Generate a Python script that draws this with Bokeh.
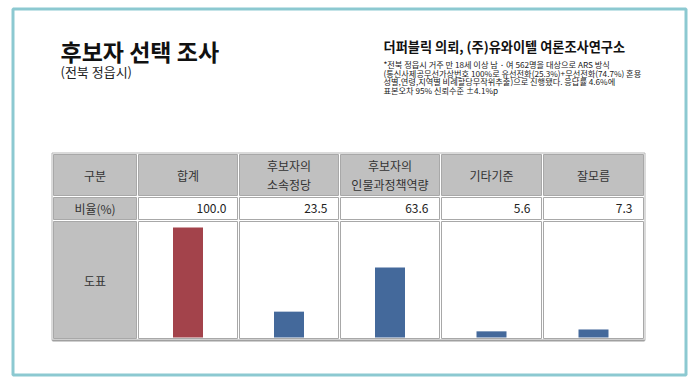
from bokeh.plotting import figure
from bokeh.models import Range1d
from bokeh.core.properties import value
from bokeh.embed import file_html
from bokeh.resources import INLINE

# ---- data ----
title = "후보자 선택 조사"
subtitle = "(전북 정읍시)"
source_title = "더퍼블릭 의뢰, (주)유와이텔 여론조사연구소"
notes = [
    "*전북 정읍시 거주 만 18세 이상 남 · 여 562명을 대상으로 ARS 방식",
    "(통신사제공무선가상번호 100%로 유선전화(25.3%)+무선전화(74.7%) 혼용",
    "성별,연령,지역별 비례할당무작위추출)으로 진행됐다. 응답률 4.6%에",
    "표본오차 95% 신뢰수준 ±4.1%p",
]
row_labels = ["구분", "비율(%)", "도표"]
categories = ["합계", "후보자의\n소속정당", "후보자의\n인물과정책역량", "기타기준", "잘모름"]
ratios = [100.0, 23.5, 63.6, 5.6, 7.3]
bar_colors = ["#a3434b", "#44699b", "#44699b", "#44699b", "#44699b"]

# ---- layout ----
W, H = 690, 377
FONT = value("Noto Sans CJK KR")

col_edges = [52, 137, 238, 339, 440, 542, 644]
row_edges = [153, 196, 220, 339]
bar_base_px, bar_full_px = 337, 227  # pixel y of 0 and 100
bar_width = 30

p = figure(width=W, height=H, output_backend="svg", toolbar_location=None,
           x_range=Range1d(0, W), y_range=Range1d(H, 0),
           x_axis_type=None, y_axis_type=None, min_border=0,
           outline_line_color=None, background_fill_color="white")
p.xgrid.visible = False
p.ygrid.visible = False

# bar value scale: 0 at bar_base_px, 100 at bar_full_px
per_px = 100.0 / (bar_base_px - bar_full_px)
ys = -(H - bar_base_px) * per_px
p.extra_y_ranges = {"bars": Range1d(ys, ys + H * per_px)}

# outer frame
p.quad(left=[12.5], right=[685.5], top=[8.5], bottom=[374.5],
       fill_color=None, line_color="#8cc9d1", line_width=3)

# titles
p.text(x=[60], y=[50], text=[title], text_font=FONT, text_font_size="23px",
       text_font_style="bold", text_baseline="middle", text_color="#111111")
p.text(x=[60], y=[71], text=[subtitle], text_font=FONT, text_font_size="13px",
       text_baseline="middle", text_color="#222222")
p.text(x=[383], y=[46], text=[source_title], text_font=FONT, text_font_size="13.2px",
       text_font_style="bold", text_baseline="middle", text_color="#111111")
p.text(x=[383] * len(notes), y=[63.3 + 8.7 * i for i in range(len(notes))], text=notes,
       text_font=FONT, text_font_size="8.2px", text_baseline="middle", text_color="#222222")

# table outer border
p.quad(left=[col_edges[0] - 0.5], right=[col_edges[-1] + 0.5], top=[row_edges[0] - 0.5],
       bottom=[row_edges[-1] + 1], fill_color=None, line_color="#b5b5b5", line_width=1)

# table cells
L, R, T, B, F = [], [], [], [], []
for r in range(3):
    for c in range(6):
        L.append(col_edges[c] + 1)
        R.append(col_edges[c + 1] - 1)
        T.append(row_edges[r] + 1)
        B.append(row_edges[r + 1] - 1)
        F.append("#c0c0c0" if (r == 0 or c == 0) else "white")
p.quad(left=L, right=R, top=T, bottom=B, fill_color=F, line_color="#a8a8a8", line_width=1)
# bottom shadow line
p.segment(x0=[col_edges[0]], x1=[col_edges[-1]], y0=[row_edges[-1] + 1], y1=[row_edges[-1] + 1],
          line_color="#a0a0a0", line_width=2)

centers = [(col_edges[i] + col_edges[i + 1]) / 2 for i in range(6)]
row_mid = [(row_edges[i] + row_edges[i + 1]) / 2 for i in range(3)]

# row labels
p.text(x=[centers[0]] * 3, y=row_mid, text=row_labels, text_font=FONT, text_font_size="12px",
       text_align="center", text_baseline="middle", text_color="#333333")

# header categories (multi-line labels drawn line by line)
hx, hy, ht = [], [], []
line_gap = 19
for i, cat in enumerate(categories):
    lines = cat.split("\n")
    n = len(lines)
    for j, ln in enumerate(lines):
        hx.append(centers[i + 1])
        hy.append(row_mid[0] + (j - (n - 1) / 2) * line_gap)
        ht.append(ln)
p.text(x=hx, y=hy, text=ht, text_font=FONT, text_font_size="12px", text_align="center",
       text_baseline="middle", text_color="#333333")

# ratio values
p.text(x=[col_edges[i + 2] - 12 for i in range(len(ratios))], y=[row_mid[1]] * len(ratios),
       text=[f"{v:.1f}" for v in ratios], text_font=FONT, text_font_size="12px",
       text_align="right", text_baseline="middle", text_color="#222222")

# bars
p.vbar(x=centers[1:], top=ratios, bottom=0, width=bar_width, fill_color=bar_colors,
       line_color=None, y_range_name="bars")

open("out.html", "w").write(file_html(p, INLINE))
